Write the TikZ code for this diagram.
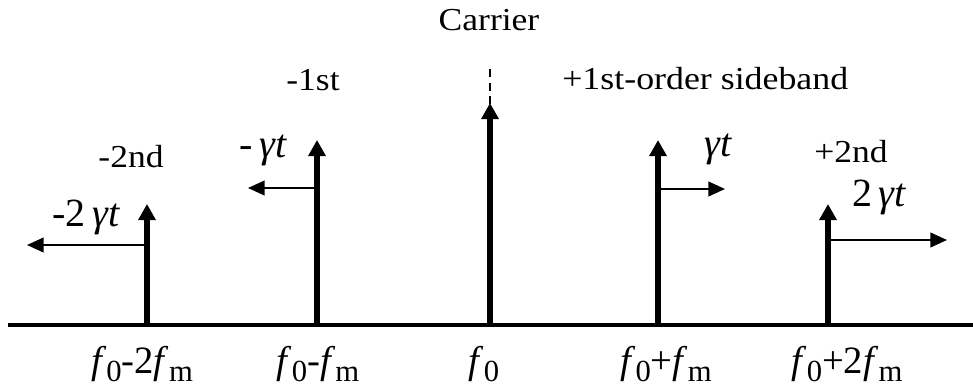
\documentclass[tikz,border=0pt]{standalone}
\usepackage{fontspec}
\setmainfont{Liberation Serif}
\newfontfamily\tnr{Liberation Serif}
\usetikzlibrary{arrows.meta}
\newcommand{\lowsub}[1]{\raisebox{-6pt}[\height][0pt]{\fontsize{23}{24}\selectfont\upshape #1}}
\newcommand{\wide}[1]{\scalebox{1.11}[1]{#1}}
\begin{document}
\begin{tikzpicture}[x=0.75pt,y=-0.75pt,
 spike/.style={line width=3.8pt,-{Triangle[length=12pt,width=12.5pt]}},
 shiftarrow/.style={line width=1.6pt,-{Triangle[length=12.5pt,width=11pt]}},
 lbl/.style={font=\tnr\fontsize{24}{26}\selectfont,inner sep=0pt},
 glbl/.style={font=\tnr\fontsize{30}{32}\selectfont\itshape,inner sep=0pt,anchor=base},
 flbl/.style={font=\tnr\fontsize{29}{30}\selectfont,inner sep=0pt,anchor=base}]
\useasboundingbox (0,0) rectangle (973,389);
\coordinate (axL) at (8,325);
\coordinate (axR) at (973,325);
\draw[line width=2.4pt] (axL) -- (axR);
% bases and tips
\coordinate (b1) at (147,325); \coordinate (t1) at (147,204);
\coordinate (b2) at (317,325); \coordinate (t2) at (317,140);
\coordinate (b3) at (490,325); \coordinate (t3) at (490,103);
\coordinate (b4) at (658,325); \coordinate (t4) at (658,140);
\coordinate (b5) at (828,325); \coordinate (t5) at (828,204);
\draw[spike] (b1) -- (t1);
\draw[spike] (b2) -- (t2);
\draw[spike] (b3) -- (t3);
\draw[spike] (b4) -- (t4);
\draw[spike] (b5) -- (t5);
% carrier dashed extension
\coordinate (c1) at (490,104);
\coordinate (c2) at (490,66);
\draw[line width=1.6pt,dash pattern=on 6pt off 4pt] (c1) -- (c2);
% shift arrows
\coordinate (s1a) at (147,245); \coordinate (s1b) at (27,245);
\coordinate (s2a) at (317,188); \coordinate (s2b) at (248,188);
\coordinate (s4a) at (658,189); \coordinate (s4b) at (725,189);
\coordinate (s5a) at (828,240); \coordinate (s5b) at (947,240);
\draw[shiftarrow] (s1a) -- (s1b);
\draw[shiftarrow] (s2a) -- (s2b);
\draw[shiftarrow] (s4a) -- (s4b);
\draw[shiftarrow] (s5a) -- (s5b);
% labels
\node[lbl] (carrier) at (489,20) {\wide{Carrier}};
\node[lbl] (m1) at (313,80) {\wide{-1st}};
\node[lbl,anchor=west] (p1) at (562,79) {\scalebox{1.12}[1]{+1st-order sideband}};
\node[lbl] (m2) at (131,157) {\wide{-2nd}};
\node[lbl] (p2) at (851,152) {\wide{+2nd}};
\node[glbl] (g1) at (86,226) {\upshape-2\,\itshape γt};
\node[glbl] (g2) at (263,157) {\upshape-\,\itshape γt};
\node[glbl] (g4) at (718,156) {γt};
\node[glbl] (g5) at (879,206) {\upshape 2\,\itshape γt};
\node[flbl] (f1) at (142,373) {\textit{f}\lowsub{0}-2\textit{f}\lowsub{m}};
\node[flbl] (f2) at (318,373) {\textit{f}\lowsub{0}-\textit{f}\lowsub{m}};
\node[flbl] (f3) at (484,373) {\textit{f}\lowsub{0}};
\node[flbl] (f4) at (666,373) {\textit{f}\lowsub{0}+\textit{f}\lowsub{m}};
\node[flbl] (f5) at (847,373) {\textit{f}\lowsub{0}+2\textit{f}\lowsub{m}};
\end{tikzpicture}
\end{document}
